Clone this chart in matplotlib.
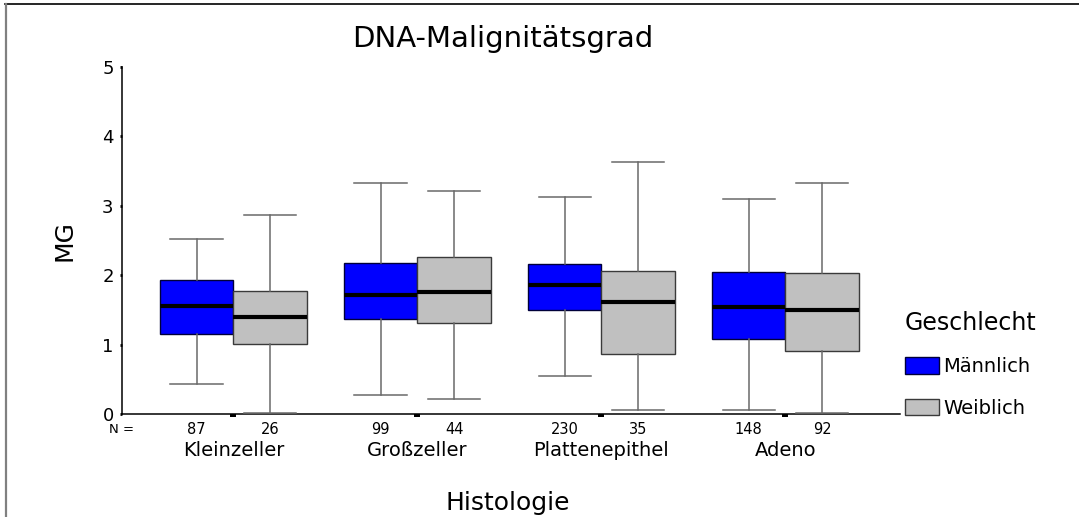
import matplotlib
matplotlib.use("Agg")
import matplotlib.pyplot as plt
import matplotlib.transforms as mtransforms
from matplotlib.patches import Patch
from matplotlib.lines import Line2D

# Histology groups and per-sex box statistics of the DNA malignancy grade
categories = ["Kleinzeller", "Großzeller", "Plattenepithel", "Adeno"]
sexes = ["Männlich", "Weiblich"]

n_male = [87, 99, 230, 148]
n_female = [26, 44, 35, 92]

med_male = [1.56, 1.72, 1.86, 1.54]
q1_male = [1.16, 1.38, 1.50, 1.09]
q3_male = [1.93, 2.18, 2.17, 2.05]
lo_male = [0.44, 0.28, 0.56, 0.06]
hi_male = [2.53, 3.33, 3.13, 3.10]

med_female = [1.40, 1.76, 1.62, 1.51]
q1_female = [1.02, 1.31, 0.87, 0.92]
q3_female = [1.77, 2.27, 2.07, 2.03]
lo_female = [0.02, 0.22, 0.06, 0.02]
hi_female = [2.87, 3.21, 3.63, 3.33]

yticks = [0, 1, 2, 3, 4, 5]

color_male = "#0000ff"
color_female = "#c0c0c0"

fig = plt.figure(figsize=(10.79, 5.17), dpi=100)
ax = fig.add_axes([0.1128, 0.1983, 0.7213, 0.6721])


def stats(med, q1, q3, lo, hi, label):
    return [dict(med=m, q1=a, q3=b, whislo=l, whishi=h, fliers=[], label=label)
            for m, a, b, l, h in zip(med, q1, q3, lo, hi)]


centers = list(range(len(categories)))
box_w = 0.4
cap_w = 0.283

for st, offs, fc, ec in [
    (stats(med_male, q1_male, q3_male, lo_male, hi_male, "m"), -0.2, color_male, "#00003a"),
    (stats(med_female, q1_female, q3_female, lo_female, hi_female, "f"), 0.2, color_female, "#3a3a3a"),
]:
    ax.bxp(st, positions=[c + offs for c in centers], widths=box_w,
           capwidths=cap_w, patch_artist=True, showfliers=False,
           boxprops=dict(facecolor=fc, edgecolor=ec, linewidth=1.0),
           medianprops=dict(color="black", linewidth=3.0, solid_capstyle="butt"),
           whiskerprops=dict(color="#6a6a6a", linewidth=1.1),
           capprops=dict(color="#6a6a6a", linewidth=1.1),
           manage_ticks=False, zorder=3)

ax.set_xlim(-0.6065, 3.623)
ax.set_ylim(0, 5)

for side in ("top", "right"):
    ax.spines[side].set_visible(False)
for side in ("left", "bottom"):
    ax.spines[side].set_linewidth(1.1)
    ax.spines[side].set_color("black")

ax.set_yticks(yticks)
ax.set_yticklabels([str(t) for t in yticks], fontsize=13)
ax.tick_params(axis="y", length=1.8, width=2.0, pad=4, color="black")

# small dashes below the axis at each group centre
ax.set_xticks(centers)
ax.set_xticklabels([""] * len(centers))
ax.tick_params(axis="x", length=2.2, width=4.3, color="black")

trans = mtransforms.blended_transform_factory(ax.transData, ax.transAxes)
for c, nm, nf, cat in zip(centers, n_male, n_female, categories):
    ax.text(c - 0.2, -0.042, str(nm), transform=trans, ha="center", va="center", fontsize=10.5)
    ax.text(c + 0.2, -0.042, str(nf), transform=trans, ha="center", va="center", fontsize=10.5)
    ax.text(c, -0.105, cat, transform=trans, ha="center", va="center", fontsize=14)
ax.text(0.0, -0.042, "N =", transform=ax.transAxes, ha="center", va="center", fontsize=9.5)

# titles
fig.text(503 / 1079, 1 - 46.7 / 517, "DNA-Malignitätsgrad", ha="center", va="baseline", fontsize=21)
fig.text(508 / 1079, 1 - 510 / 517, "Histologie", ha="center", va="baseline", fontsize=18)
fig.text(65 / 1079, 1 - 240.7 / 517, "MG", ha="center", va="center", rotation=90, fontsize=18)

# legend
handles = [Patch(facecolor=color_male, edgecolor="#00003a", linewidth=1.0),
           Patch(facecolor=color_female, edgecolor="#3a3a3a", linewidth=1.0)]
leg = fig.legend(handles, sexes, title="Geschlecht", loc="upper left",
                 bbox_to_anchor=(905 / 1079, 1 - 311 / 517), frameon=False,
                 fontsize=14, title_fontsize=17, handlelength=1.75, handleheight=0.9,
                 handletextpad=0.2, labelspacing=1.15, borderaxespad=0, borderpad=0,
                 alignment="left")
leg._legend_box.sep = 16

# frame around the figure
fig.add_artist(Line2D([5 / 1079, 1.0], [1 - 4 / 517, 1 - 4 / 517], transform=fig.transFigure,
                      color="black", linewidth=1.2))
fig.add_artist(Line2D([6 / 1079, 6 / 1079], [0, 1 - 4 / 517], transform=fig.transFigure,
                      color="#808080", linewidth=1.6))

fig.savefig("out.png", dpi=100, facecolor="white")
